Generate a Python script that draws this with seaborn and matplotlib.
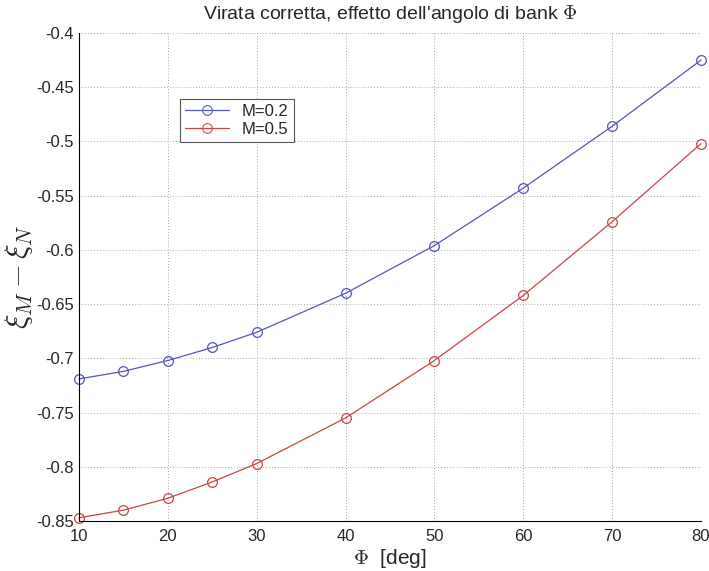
import matplotlib
matplotlib.use("Agg")
import matplotlib.pyplot as plt
import seaborn as sns
import pandas as pd

phi = [10, 15, 20, 25, 30, 40, 50, 60, 70, 80]
m02 = [-0.719, -0.712, -0.702, -0.690, -0.676, -0.640, -0.596, -0.543, -0.486, -0.425]
m05 = [-0.847, -0.840, -0.829, -0.814, -0.797, -0.755, -0.702, -0.642, -0.574, -0.502]
labels = ["M=0.2", "M=0.5"]
xticks = [10, 20, 30, 40, 50, 60, 70, 80]
yticks = [-0.85, -0.8, -0.75, -0.7, -0.65, -0.6, -0.55, -0.5, -0.45, -0.4]

sns.set_style("white")
plt.rcParams['font.family'] = ['Liberation Sans', 'DejaVu Sans']
plt.rcParams['mathtext.fontset'] = 'cm'

df = pd.DataFrame({
    "phi": phi * 2,
    "val": m02 + m05,
    "serie": [labels[0]] * len(phi) + [labels[1]] * len(phi),
})

fig = plt.figure(figsize=(7.09, 5.71), dpi=100)
ax = fig.add_axes([79/709, 1 - 521/571, 622/709, 488/571])
palette = {labels[0]: "#5555bb", labels[1]: "#cc4444"}
sns.lineplot(data=df, x="phi", y="val", hue="serie", palette=palette, ax=ax,
             marker="o", markersize=7, markerfacecolor="none",
             linewidth=0.9, legend=True, clip_on=False)
for line, c in zip(ax.lines, [palette[labels[0]], palette[labels[1]]]):
    line.set_markeredgecolor(c)
    line.set_markeredgewidth(0.9)

ax.set_xlim(10, 80)
ax.set_ylim(-0.85, -0.4)
ax.set_xticks(xticks)
ax.set_xticklabels([str(t) for t in xticks])
ax.set_yticks(yticks)
ax.set_yticklabels([f"{t:g}" for t in yticks])
ax.tick_params(direction="in", length=4, labelsize=12, width=0.8)
ax.tick_params(axis="x", pad=6)
ax.grid(True, linestyle=(0, (1, 2.5)), color="#888888", linewidth=0.6)
ax.spines["top"].set_visible(False)
ax.spines["right"].set_visible(False)
for s in ["left", "bottom"]:
    ax.spines[s].set_color("black")
    ax.spines[s].set_linewidth(0.8)

ax.set_title(r"Virata corretta, effetto dell'angolo di bank $\Phi$", fontsize=14, pad=10)
ax.set_xlabel(r"$\Phi$  [deg]", fontsize=15, labelpad=2)
ax.set_ylabel(r"$\xi_M - \xi_N$", fontsize=22, labelpad=1)

h, l = ax.get_legend_handles_labels()
for hh, c in zip(h, [palette[labels[0]], palette[labels[1]]]):
    hh.set_markerfacecolor("none")
    hh.set_markeredgecolor(c)
leg = ax.legend(h, l, loc="upper left", bbox_to_anchor=(0.163, 0.865), fontsize=12,
                frameon=True, fancybox=False, edgecolor="#555555", framealpha=1,
                borderpad=0.3, handlelength=2.6, labelspacing=0.2, borderaxespad=0)
leg.get_frame().set_linewidth(0.8)

fig.savefig("out.png", dpi=100)
